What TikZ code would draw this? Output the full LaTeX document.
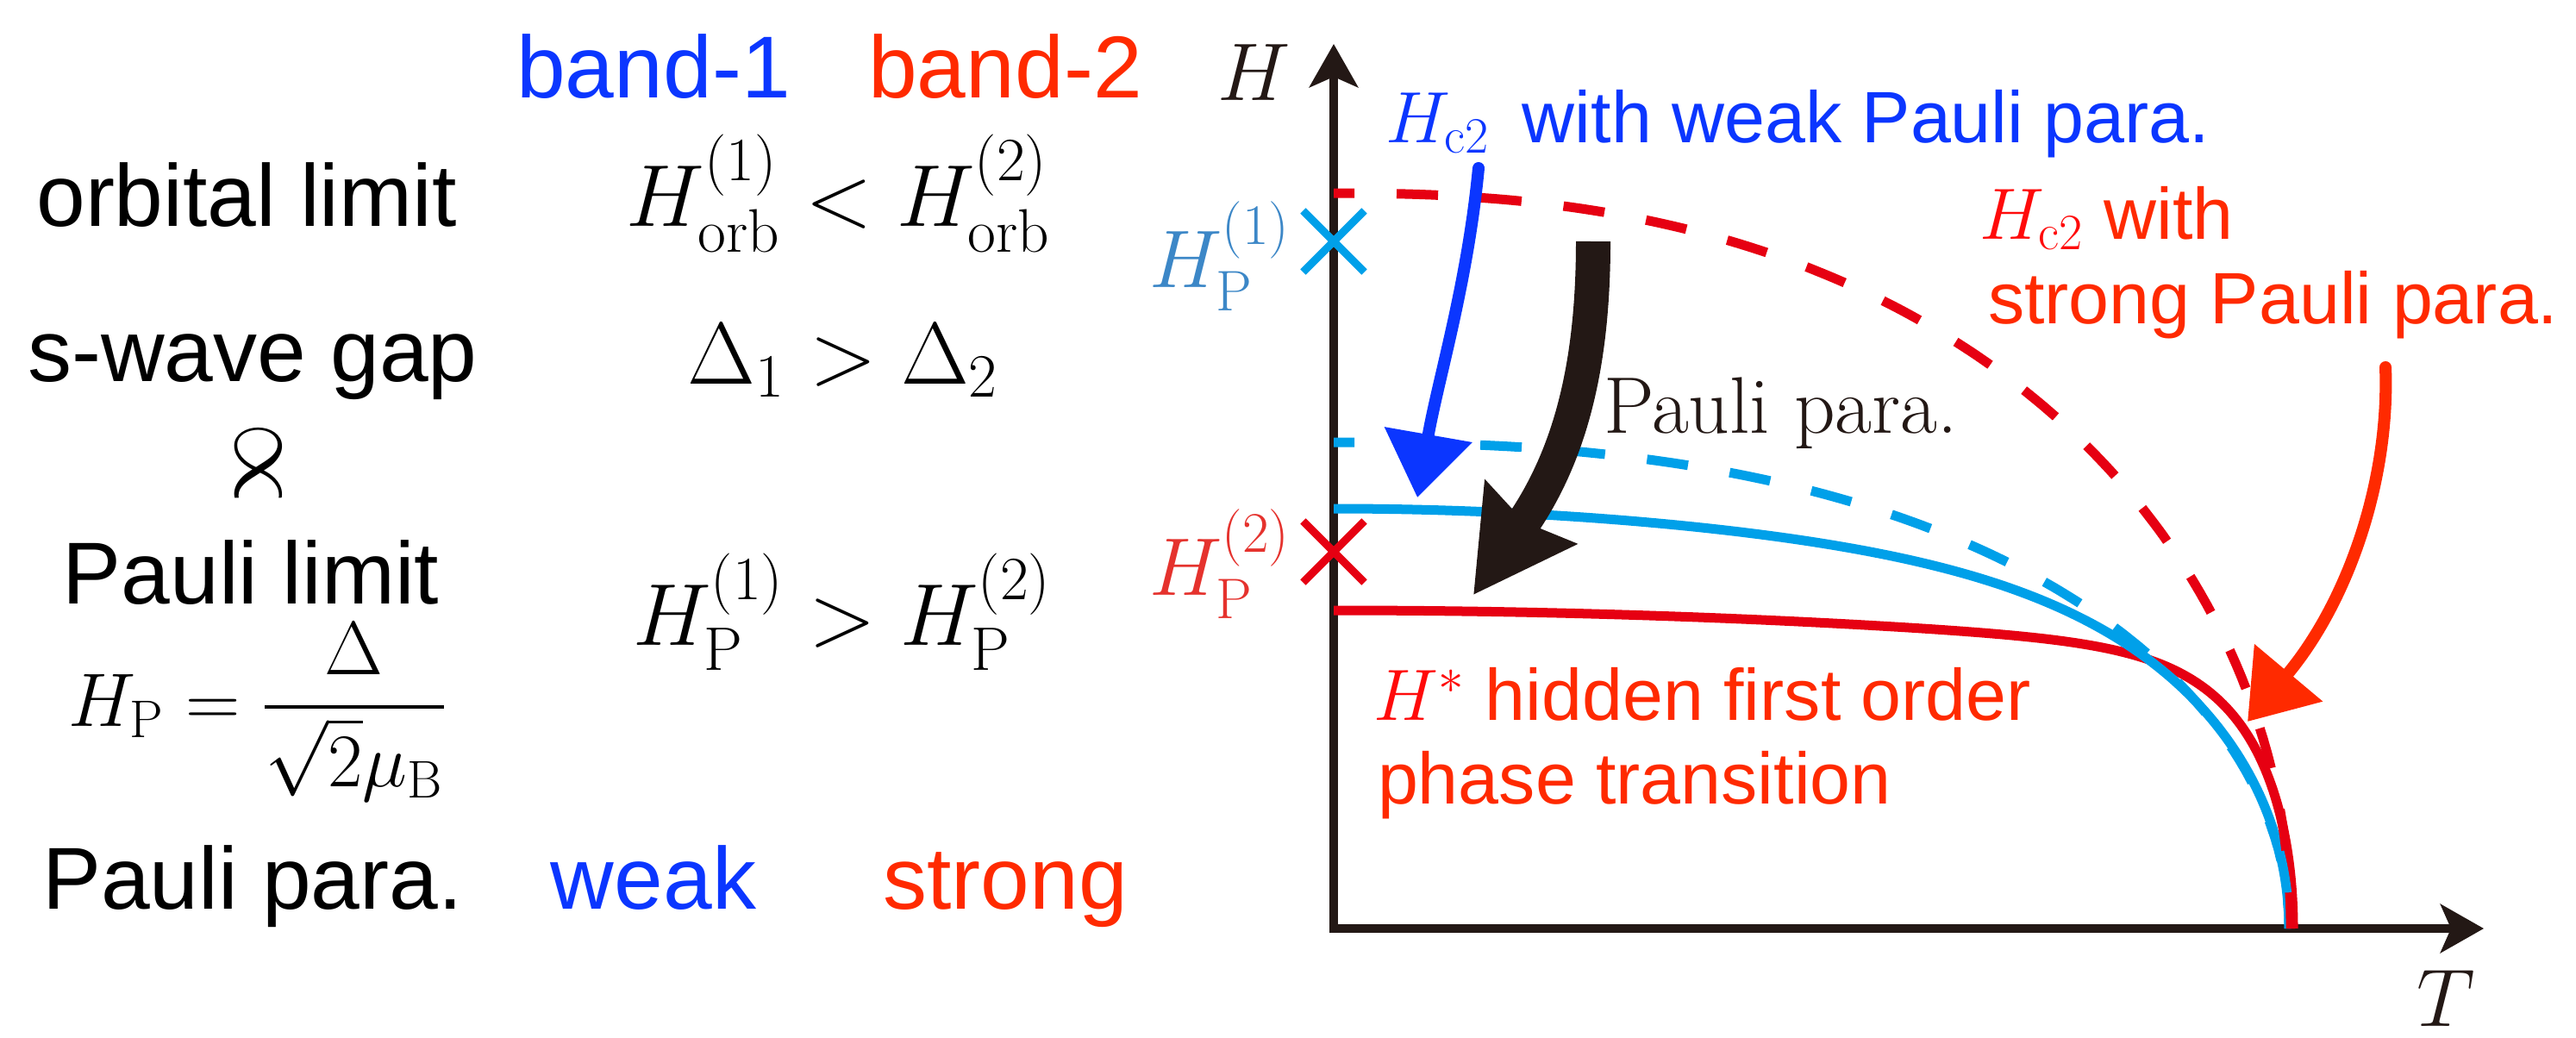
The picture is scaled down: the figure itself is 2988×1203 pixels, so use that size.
\documentclass[tikz,border=0pt]{standalone}
\usepackage{amsmath}
\usepackage{fontspec}
\setsansfont{Liberation Sans}
\DeclareFontShape{OT1}{cmr}{m}{n}{<-6>cmr5<6-7>cmr6<7-8>cmr7<8-9>cmr8<9-10>cmr9<10-12>cmr10<12-17>cmr12<17->cmr17}{}
\DeclareFontShape{OML}{cmm}{m}{it}{<-6>cmmi5<6-7>cmmi6<7-8>cmmi7<8-9>cmmi8<9-10>cmmi9<10-12>cmmi10<12->cmmi12}{}
\DeclareFontShape{OMS}{cmsy}{m}{n}{<-6>cmsy5<6-7>cmsy6<7-8>cmsy7<8-9>cmsy8<9-10>cmsy9<10->cmsy10}{}
\DeclareFontShape{OMX}{cmex}{m}{n}{<->cmex10}{}
\usepackage{tikz}
\usetikzlibrary{arrows.meta,positioning,shapes.misc}
\definecolor{bandBlue}{HTML}{0B36FF}
\definecolor{bandRed}{HTML}{FF2A00}
\definecolor{mathRed}{HTML}{FF0A0A}
\definecolor{curveRed}{HTML}{E60012}
\definecolor{curveCyan}{HTML}{00A0E9}
\definecolor{hpBlue}{HTML}{3C87C7}
\definecolor{hpRed}{HTML}{E5322D}
\definecolor{axisBlack}{HTML}{231815}
\newcommand{\tblsize}{\fontsize{29}{35}\selectfont}
\newcommand{\plotsize}{\fontsize{24}{29}\selectfont}
\newcommand{\axsize}{\fontsize{27}{32}\selectfont}

\begin{document}
\begin{tikzpicture}[
  x=0.01cm, y=-0.01cm,
  declare function={tt(\p)=1-(1-\p)^2; hc(\p,\q)=sqrt(max(0,1-tt(\p)^\q));},
  txt/.style={inner sep=0pt, outer sep=0pt},
  rowlabel/.style={txt, anchor=base, font=\sffamily\tblsize},
  relation/.style={txt, anchor=base, font=\tblsize},
  plotlabel/.style={txt, anchor=base west, font=\sffamily\plotsize},
  axislabel/.style={txt, anchor=base, font=\axsize, text=axisBlack},
  axisline/.style={line width=0.1cm, draw=axisBlack, -{Stealth[length=0.5cm, width=0.56cm, inset=0.12cm]}},
  phaseline/.style={line width=0.11cm},
  dashline/.style={phaseline, dash pattern=on 0.48cm off 0.49cm, dash phase=0.24cm},
  limitcross/.style={cross out, draw, line width=0.09cm, minimum size=0.62cm, inner sep=0pt},
  handarrow/.style={line width=0.14cm, line cap=round, -{Triangle[length=0.74cm, width=1.0cm]}},
  pauliarrow/.style={line width=0.4cm, draw=axisBlack, -{Stealth[length=1.15cm, width=1.25cm, inset=0.12cm]}}
]
\useasboundingbox (0,0) rectangle (2988,1203);
\fill[white] (0,0) rectangle (2988,1203);

% left table
\node[rowlabel, text=bandBlue] (bandone) at (758,113) {band-1};
\node[rowlabel, text=bandRed] (bandtwo) at (1166,113) {band-2};
\node[rowlabel] (orbital) at (286,262) {orbital limit};
\node[relation] (orbrel) at (973,262) {$H_{\mathrm{orb}}^{(1)} < H_{\mathrm{orb}}^{(2)}$};
\node[rowlabel] (swave) at (293,442) {s-wave gap};
\node[relation] (gaprel) at (978,445) {$\Delta_1 > \Delta_2$};
\node[txt, rotate=-90, scale=1.2, font=\fontsize{29}{34}\selectfont] (propto) at (300,537) {$\propto$};
\node[rowlabel] (paulilimit) at (291,700) {Pauli limit};
\node[txt, anchor=base, font=\fontsize{25}{30}\selectfont] (hpdef) at (299,842) {$H_{\mathrm{P}} = \dfrac{\Delta}{\sqrt{2}\mu_{\mathrm{B}}}$};
\node[relation] (hprel) at (977,748) {$H_{\mathrm{P}}^{(1)} > H_{\mathrm{P}}^{(2)}$};
\node[rowlabel] (paulipara) at (293,1054) {Pauli para.};
\node[rowlabel, text=bandBlue] (weak) at (bandone.base |- paulipara.base) {weak};
\node[rowlabel, text=bandRed] (strong) at (bandtwo.base |- paulipara.base) {strong};

% axes
\coordinate (origin) at (1547,1082);
\coordinate (ytop) at (1547,51);
\coordinate (xstart) at (1542,1077);
\coordinate (xend) at (2881,1077);
\draw[axisline] (origin) -- (ytop);
\draw[axisline] (xstart) -- (xend);
\node[axislabel] (hlabel) at (1455,116) {$H$};
\node[axislabel] (tlabel) at (2837,1190) {$T$};

% curves
\draw[phaseline, curveRed] (1547,708) -- plot[domain=0.002:1, samples=160]
  ({1547+1113*tt(\x)}, {1077-369*(1-0.15*tt(\x)^2)*hc(\x,14)});
\draw[phaseline, curveCyan] (1547,590) -- plot[domain=0.002:1, samples=160]
  ({1547+1108*tt(\x)}, {1077-487*(1-0.3*tt(\x)^2)*hc(\x,7)});
\draw[dashline, curveCyan] (1547,513) -- plot[domain=0.002:1, samples=160]
  ({1547+1108*tt(\x)}, {1077-564*hc(\x,2.4)});
\draw[dashline, curveRed] (1547,224) -- plot[domain=0.002:1, samples=160]
  ({1547+1110*tt(\x)}, {1077-853*hc(\x,2.35)});

% Pauli limits
\node[limitcross, draw=curveCyan] (hponecross) at (1547,280) {};
\node[limitcross, draw=curveRed] (hptwocross) at (1547,640) {};
\node[txt, anchor=base east, font=\axsize, text=hpBlue] (hponelabel) at (1497,333) {$H_{\mathrm{P}}^{(1)}$};
\node[txt, anchor=base east, font=\axsize, text=hpRed] (hptwolabel) at (1497,690) {$H_{\mathrm{P}}^{(2)}$};

% labels
\node[plotlabel, text=bandBlue] (weaklabel) at (1607,165) {$H_{\mathrm{c2}}$\, with weak Pauli para.};
\node[plotlabel, text=bandRed] (stronglabel) at (2296,277) {\textcolor{mathRed}{$H_{\mathrm{c2}}$} with};
\node[plotlabel, text=bandRed] (stronglabeltwo) at ([xshift=0.1cm, yshift=-0.98cm]stronglabel.base west) {strong Pauli para.};
\node[plotlabel, text=bandRed] (hstarlabel) at (1593,835) {\textcolor{mathRed}{$H^{*}$} hidden first order};
\node[plotlabel, text=bandRed] (hstarlabeltwo) at ([xshift=0.05cm, yshift=-0.97cm]hstarlabel.base west) {phase transition};
\node[txt, anchor=base west, font=\fontsize{26.5}{32}\selectfont, text=axisBlack] (paulilabel) at (1860,502) {Pauli para.};

% arrows
\coordinate (weakfrom) at (1715,195);
\coordinate (weakto) at (1644,577);
\coordinate (strongfrom) at (2767,426);
\coordinate (strongto) at (2607,837);
\coordinate (paulifrom) at (1848,280);
\coordinate (paulito) at (1709,690);
\draw[handarrow, draw=bandBlue] (weakfrom) .. controls (1702,330) and (1668,440) .. (weakto);
\draw[handarrow, draw=bandRed] (strongfrom) .. controls (2772,560) and (2722,700) .. (strongto);
\draw[pauliarrow] (paulifrom) .. controls (1848,420) and (1823,526) .. (paulito);
\end{tikzpicture}
\end{document}
